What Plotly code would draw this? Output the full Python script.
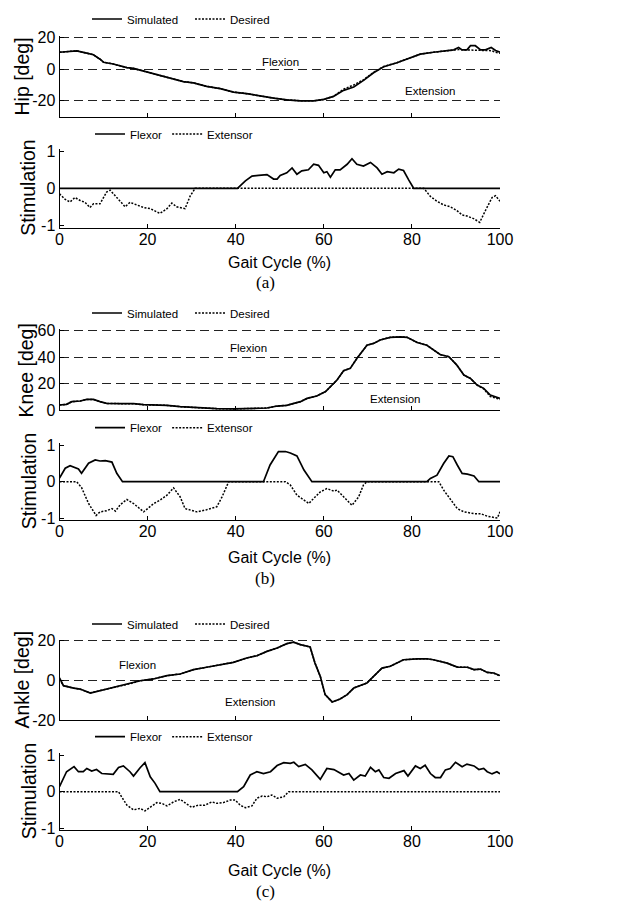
import plotly.graph_objects as go

# ---------------- data ----------------
gait_ticks = [0, 20, 40, 60, 80, 100]
gait_tick_text = ["0", "20", "40", "60", "80", "100"]
stim_ticks = [-1, 0, 1]
stim_tick_text = ["-1", "0", "1"]
hip_ticks = [-20, 0, 20]
hip_tick_text = ["-20", "0", "20"]
knee_ticks = [0, 20, 40, 60]
knee_tick_text = ["0", "20", "40", "60"]
ankle_ticks = [-20, 0, 20]
ankle_tick_text = ["-20", "0", "20"]

hip_x = [0, 3.9, 6.2, 7.7, 9.2, 10, 12.2, 13.7, 15.3, 16.8, 19.8, 22.8, 25.9, 28.1, 30.4, 33.4,
         36.5, 39.5, 42.5, 45.6, 48.6, 51.6, 54.7, 57.7, 60, 62.2, 64.5, 66.8, 69.1, 71.3, 73.6,
         76.6, 78.9, 81.9, 84.9, 88, 89.5, 90.6, 91.4, 92.5, 93.3, 94.4, 95.6, 96.7, 98, 99, 100]
hip_sim = [10.6, 11.5, 10, 9, 6.2, 4.3, 3.2, 2.1, 0.9, 0.4, -1.7, -3.8, -6, -7.9, -8.7, -10.9,
           -12.3, -14.5, -15.5, -17, -18.3, -19.4, -20, -20, -19.1, -17.2, -13.4, -11.3, -7, -2.3, 1.5,
           4, 6.4, 9.4, 10.6, 11.7, 12.1, 13.6, 12.1, 12.1, 14.7, 14.7, 12.1, 12.1, 13.6, 11.7, 10.6]
hip_des = [10.6, 11.5, 10, 9, 6.2, 4.3, 3.2, 2.1, 0.9, 0.4, -1.7, -3.8, -6, -7.9, -8.7, -10.9,
           -12.3, -14.5, -15.5, -17, -18.3, -19.4, -20, -20, -19.1, -17.2, -12.6, -10.0, -6.6, -2.0, 1.6,
           4, 6.4, 9.4, 10.6, 11.7, 12.1, 12.3, 12.1, 12.0, 12.2, 12.1, 12.0, 12.0, 11.6, 10.6, 10.0]

stim_a_flex_x = [0, 40.4, 42.2, 43.7, 45.2, 47.1, 48.6, 49.4, 50.1, 51.6, 52.8, 53.9, 55, 56.5, 57.7,
                 58.8, 60, 60.7, 61.5, 62.6, 63.7, 65.3, 66.4, 67.5, 69, 70.6, 72.1, 73.2, 74.4, 75.9,
                 77, 78.1, 79.3, 80.4, 100]
stim_a_flex = [0, 0, 0.2, 0.33, 0.35, 0.37, 0.25, 0.25, 0.35, 0.42, 0.55, 0.38, 0.47, 0.5, 0.65,
               0.62, 0.42, 0.45, 0.3, 0.5, 0.5, 0.65, 0.8, 0.65, 0.6, 0.7, 0.55, 0.38, 0.45, 0.42,
               0.52, 0.48, 0.22, 0, 0]
stim_a_ext_x = [0, 1.3, 2.4, 3.5, 4.7, 5.8, 6.9, 7.7, 9.2, 10.7, 11.5, 12.6, 13.8, 14.9, 16, 17.5,
                19.1, 20.6, 22.8, 24.4, 25.5, 26.6, 28.5, 29.7, 30.8, 82.7, 84.2, 85.7, 87.2, 88.7,
                90.2, 91.4, 92.5, 94, 95.4, 96.7, 98.2, 99, 100]
stim_a_ext = [-0.15, -0.3, -0.37, -0.25, -0.33, -0.38, -0.52, -0.42, -0.42, -0.1, -0.05, -0.2, -0.38,
              -0.5, -0.38, -0.45, -0.52, -0.55, -0.68, -0.55, -0.4, -0.5, -0.55, -0.2, 0, 0, -0.22,
              -0.35, -0.45, -0.5, -0.6, -0.72, -0.75, -0.82, -0.92, -0.6, -0.25, -0.2, -0.35]

knee_x = [0, 1.6, 2.8, 4.7, 6.2, 7.7, 9.2, 10.7, 13.8, 16.8, 19.1, 22.8, 24.4, 27.4, 30.4, 32, 35.7,
          39.5, 44, 47.1, 49.4, 51.6, 53.2, 54.7, 56.2, 58.4, 60.4, 61.5, 63, 64.5, 66, 67.5, 69,
          69.8, 71.3, 72.8, 75.1, 77.4, 78.9, 81.2, 83.4, 84.9, 86.4, 88.4, 90.2, 91.8, 93.3, 94.8,
          96.3, 97.8, 100]
knee_sim = [3.8, 4.3, 6.3, 6.8, 8, 8, 6.3, 5, 4.8, 4.8, 4, 4, 3.5, 2.5, 2, 1.3, 1, 0.8, 1, 1.5, 3,
            3.5, 5, 6.3, 8.8, 10.6, 13.9, 17.6, 22.7, 29.7, 31.5, 39, 45.8, 49, 50.4, 53, 55, 55.4,
            55, 51.1, 49, 45.3, 42, 40.3, 34, 26.4, 23.9, 18.9, 16.4, 11.3, 8.8]
knee_des = [3.8, 4.3, 6.3, 6.8, 8, 8, 6.3, 5, 4.8, 4.8, 4, 4, 3.5, 2.5, 2, 1.3, 1, 0.8, 1, 1.5, 3,
            3.5, 5, 6.3, 8.8, 10.6, 13.9, 17.6, 22.7, 29.7, 31.5, 39, 45.8, 49, 50.4, 53, 55, 55.4,
            55, 51.1, 49, 45.3, 42, 40.3, 34, 26.4, 23.9, 18.9, 16.0, 10.2, 8.0]

stim_b_flex_x = [0, 1.3, 2.4, 4.3, 5, 6.6, 8.1, 9.2, 10.4, 11.9, 13, 14.3, 46.3, 47.8, 49.7, 51.3,
                 52.4, 53.9, 55.5, 57.3, 83.4, 84.2, 85.7, 87.2, 88.4, 89.3, 90.3, 91.4, 92.6, 94.1,
                 95.2, 100]
stim_b_flex = [0.1, 0.37, 0.44, 0.35, 0.23, 0.51, 0.6, 0.57, 0.58, 0.54, 0.23, 0, 0, 0.46, 0.83,
               0.83, 0.79, 0.71, 0.32, 0, 0, 0.09, 0.18, 0.5, 0.71, 0.69, 0.46, 0.23, 0.21, 0.16, 0, 0]
stim_b_ext_x = [0, 3.9, 5, 6.6, 8.3, 9.2, 10.7, 11.9, 12.7, 13.8, 15.3, 16.8, 19.1, 21.4, 22.8, 24.4,
                25.9, 27.4, 28.5, 31.2, 33.4, 35.7, 36.9, 38.4, 51.3, 52.4, 53.9, 55.5, 56.6, 57.7,
                59.2, 60.7, 62.3, 63, 64.5, 66.4, 67.9, 69, 69.8, 86.1, 87.2, 88.8, 90.3, 91.8, 94.1,
                95.6, 97.1, 99.4, 100]
stim_b_ext = [0, 0, -0.16, -0.6, -0.93, -0.83, -0.8, -0.74, -0.81, -0.63, -0.49, -0.6, -0.83, -0.6,
              -0.51, -0.37, -0.17, -0.42, -0.74, -0.83, -0.77, -0.69, -0.42, 0, 0, -0.09, -0.37,
              -0.51, -0.6, -0.46, -0.28, -0.19, -0.26, -0.23, -0.42, -0.65, -0.42, -0.09, 0, 0,
              -0.23, -0.51, -0.74, -0.83, -0.88, -0.88, -0.95, -1.0, -0.83]

ankle_x = [0, 0.9, 3.2, 4.7, 7, 9.2, 11.5, 13.8, 16, 18.3, 21.3, 24.4, 27.4, 30.4, 33.4, 36.5, 39.5,
           42.5, 44.8, 47.1, 49.4, 51.6, 53.1, 54.7, 56.9, 58, 59.2, 60.3, 61.9, 63.7, 65.3, 66.8,
           68.3, 69.8, 71.3, 73.2, 75.1, 76.6, 78.1, 81.2, 83.4, 84.9, 88, 90.3, 92.6, 94.1, 95.6,
           97.1, 98.6, 100]
ankle_sim = [1.2, -2.7, -3.9, -4.4, -6.4, -5.2, -4.2, -2.7, -1.7, -0.2, 0.7, 2.4, 3.2, 5.4, 6.6,
             7.9, 9.1, 11.3, 12.4, 14.6, 16.3, 18.5, 19.3, 18, 16.8, 8.7, 2, -7.2, -10.9, -9.4,
             -7.2, -3.9, -2.7, -1.3, 2, 6.2, 7.1, 8.7, 10.4, 10.8, 10.9, 10.4, 8.7, 6.7, 6.6, 5.4,
             5.7, 4, 3.7, 2.4]
ankle_des = [0.6, -2.7, -3.9, -4.5, -6.3, -5.2, -4.2, -2.8, -1.7, -0.2, 0.7, 2.4, 3.2, 5.4, 6.6,
             7.9, 9.1, 11.3, 12.4, 14.6, 16.3, 18.5, 19.3, 18, 16.8, 8.7, 2, -7.2, -10.9, -9.4,
             -7.2, -3.9, -2.7, -1.3, 2, 6.2, 7.1, 8.7, 10.4, 10.8, 10.9, 10.4, 8.7, 6.7, 6.6, 5.4,
             5.6, 4, 3.6, 2.2]

stim_c_flex_x = [0, 1.6, 3.3, 4.3, 5.4, 6.2, 7.3, 8.4, 9.6, 10.7, 12.2, 13.4, 14.5, 16, 16.8, 18.3,
                 19.4, 20.6, 21.7, 22.8, 40.4, 41.8, 43.3, 44.8, 46.3, 47.9, 49.4, 50.9, 52.4, 53.2,
                 54.3, 55.8, 57.3, 59.2, 60.7, 62.3, 63.8, 64.5, 65.7, 66.8, 68.3, 69.4, 70.6, 71.7,
                 72.5, 73.6, 74.8, 76.3, 78.2, 79.1, 80.8, 81.9, 83, 84.2, 85.3, 86.5, 87.6, 88.7,
                 89.9, 91.4, 92.5, 94.1, 95.2, 96.3, 97.1, 98.2, 99.3, 100]
stim_c_flex = [0.14, 0.55, 0.69, 0.55, 0.55, 0.64, 0.57, 0.61, 0.5, 0.49, 0.48, 0.67, 0.71, 0.55,
               0.43, 0.66, 0.8, 0.41, 0.23, 0, 0, 0.14, 0.46, 0.55, 0.5, 0.55, 0.72, 0.8, 0.78, 0.81,
               0.69, 0.75, 0.6, 0.34, 0.64, 0.61, 0.52, 0.46, 0.5, 0.32, 0.46, 0.43, 0.67, 0.55, 0.6,
               0.39, 0.37, 0.5, 0.58, 0.43, 0.71, 0.64, 0.73, 0.5, 0.39, 0.39, 0.6, 0.64, 0.81, 0.69,
               0.76, 0.71, 0.61, 0.64, 0.55, 0.49, 0.55, 0.49]
stim_c_ext_x = [0, 13.4, 14.1, 15.3, 16.8, 18.3, 19.4, 20.9, 22.1, 23.2, 24.4, 25.9, 27.4, 28.9, 30,
                31.5, 33, 34.6, 35.7, 37.2, 38.8, 39.9, 41, 42.2, 43.7, 44.8, 46, 47.1, 48.2, 49.4,
                50.9, 52, 100]
stim_c_ext = [0, 0, -0.14, -0.37, -0.5, -0.46, -0.53, -0.41, -0.3, -0.32, -0.39, -0.28, -0.21,
              -0.34, -0.43, -0.37, -0.37, -0.28, -0.32, -0.3, -0.23, -0.23, -0.37, -0.44, -0.39,
              -0.18, -0.12, -0.14, -0.09, -0.18, -0.14, 0, 0]

angle_legend = ["Simulated", "Desired"]
stim_legend = ["Flexor", "Extensor"]
angle_titles = ["Hip [deg]", "Knee [deg]", "Ankle [deg]"]
panel_tags = ["(a)", "(b)", "(c)"]

# ---------------- layout helpers ----------------
W, H = 627, 905
SANS = "Liberation Sans, Arial, Helvetica, sans-serif"
SERIF = "Liberation Serif, Times New Roman, serif"
X0, X1 = 59.5, 500.0
DOT = "2px,1.5px"


def fy(p):
    return 1 - p / H


def fx(p):
    return p / W


fig = go.Figure()

# angle panels: value range, and pixel rows of two reference values
angle_panels = [
    (1, hip_x, hip_sim, hip_des, [-30, 20.8], (20, 37.3), (-30, 116.7), hip_ticks, hip_tick_text),
    (3, knee_x, knee_sim, knee_des, [0, 61], (60, 330.7), (0, 410.0), knee_ticks, knee_tick_text),
    (5, ankle_x, ankle_sim, ankle_des, [-20, 20.6], (20, 640.7), (-20, 720.0), ankle_ticks,
     ankle_tick_text),
]
stim_panels = [
    (2, stim_a_flex_x, stim_a_flex, stim_a_ext_x, stim_a_ext, 149.1, 227.5),
    (4, stim_b_flex_x, stim_b_flex, stim_b_ext_x, stim_b_ext, 443.2, 520.2),
    (6, stim_c_flex_x, stim_c_flex, stim_c_ext_x, stim_c_ext, 753.2, 830.2),
]

axis_common = dict(showline=True, linecolor="black", linewidth=1, ticks="inside",
                   ticklen=4, tickcolor="black", zeroline=False, mirror=False, automargin=False,
                   tickfont=dict(family=SANS, size=16, color="black"))

layout = dict(template="none", width=W, height=H, autosize=False,
              margin=dict(l=0, r=0, t=0, b=0, pad=0),
              paper_bgcolor="white", plot_bgcolor="white", showlegend=True,
              font=dict(family=SANS, color="black"))


def sfx(i):
    return "" if i == 1 else str(i)


for (i, xs, ys, yd, rng, (va, pa), (vb, pb), tv, tt) in angle_panels:
    xa, ya = "x" + sfx(i), "y" + sfx(i)
    leg = "legend" + sfx(i)
    fig.add_trace(go.Scatter(x=xs, y=yd, mode="lines", name=angle_legend[1], xaxis=xa, yaxis=ya,
                             line=dict(color="black", width=1.5, dash=DOT), legend=leg))
    fig.add_trace(go.Scatter(x=xs, y=ys, mode="lines", name=angle_legend[0], xaxis=xa, yaxis=ya,
                             line=dict(color="black", width=1.7), legend=leg))
    ppu = (pb - pa) / (va - vb)
    top = pa - (rng[1] - va) * ppu
    bot = pb + (vb - rng[0]) * ppu
    layout["xaxis" + sfx(i)] = dict(domain=[fx(X0), fx(X1)], range=[0, 100], anchor=ya,
                                    tickvals=gait_ticks, showticklabels=False, showgrid=False,
                                    **axis_common)
    layout["yaxis" + sfx(i)] = dict(domain=[fy(bot), fy(top)], range=rng, anchor=xa,
                                    tickvals=tv, ticktext=tt, showgrid=True, gridcolor="#222",
                                    gridwidth=1, griddash="9px,5px", **axis_common)

for (i, fxs, fys, exs, eys, top, bot) in stim_panels:
    xa, ya = "x" + sfx(i), "y" + sfx(i)
    leg = "legend" + sfx(i)
    fig.add_trace(go.Scatter(x=fxs, y=fys, mode="lines", name=stim_legend[0], xaxis=xa, yaxis=ya,
                             line=dict(color="black", width=1.7), legend=leg))
    fig.add_trace(go.Scatter(x=exs, y=eys, mode="lines", name=stim_legend[1], xaxis=xa, yaxis=ya,
                             line=dict(color="black", width=1.5, dash=DOT), legend=leg))
    layout["xaxis" + sfx(i)] = dict(domain=[fx(X0), fx(X1)], range=[0, 100], anchor=ya,
                                    tickvals=gait_ticks, ticktext=gait_tick_text,
                                    showticklabels=True, showgrid=False, ticklabelstandoff=-3,
                                    **axis_common)
    layout["yaxis" + sfx(i)] = dict(domain=[fy(bot), fy(top)], range=[-1.06, 1.06], anchor=xa,
                                    tickvals=stim_ticks, ticktext=stim_tick_text, showgrid=False,
                                    **axis_common)

# legends
leg_pos = {1: (87, 19), 2: (90, 134), 3: (87, 313), 4: (90, 427.7), 5: (87, 624), 6: (90, 736.7)}
for i, (lx, ly) in leg_pos.items():
    spec = dict(
        x=fx(lx), y=fy(ly), xanchor="left", yanchor="middle", orientation="h",
        bgcolor="rgba(0,0,0,0)", borderwidth=0, itemwidth=30,
        traceorder="reversed" if i % 2 == 1 else "normal",
        font=dict(family=SANS, size=11.5, color="black"), itemclick=False)
    if i % 2 == 1:
        spec.update(entrywidth=58, entrywidthmode="pixels")
    layout["legend" + sfx(i)] = spec

fig.update_layout(**layout)

ann = []
# y-axis titles
ytitle_pos = [(1, 21.5, 77), (3, 25.5, 370), (5, 21.5, 680)]
for (i, px, pyy), t in zip(ytitle_pos, angle_titles):
    ann.append(dict(text=t, x=fx(px), y=fy(pyy), xref="paper", yref="paper", showarrow=False,
                    textangle=-90, font=dict(family=SANS, size=19.5, color="black"),
                    xanchor="center", yanchor="middle"))
for i, pyy in [(2, 188.3), (4, 481.7), (6, 791.7)]:
    ann.append(dict(text="Stimulation", x=fx(28.5), y=fy(pyy), xref="paper", yref="paper",
                    showarrow=False, textangle=-90,
                    font=dict(family=SANS, size=19.5, color="black"),
                    xanchor="center", yanchor="middle"))
# x titles and tags
for pyy, tag_y, tag in [(262, 283, panel_tags[0]), (557, 578, panel_tags[1]),
                        (870, 891.5, panel_tags[2])]:
    ann.append(dict(text="Gait Cycle (%)", x=fx(279), y=fy(pyy), xref="paper", yref="paper",
                    showarrow=False, font=dict(family=SANS, size=16, color="black"),
                    xanchor="center", yanchor="middle"))
    ann.append(dict(text=tag, x=fx(265), y=fy(tag_y), xref="paper", yref="paper",
                    showarrow=False, font=dict(family=SERIF, size=17, color="black"),
                    xanchor="center", yanchor="middle"))
# flexion / extension labels
region_labels = [
    ("x", "y", 50.2, 4.3, 84.2, -14),
    ("x3", "y3", 42.9, 46.6, 76.3, 8),
    ("x5", "y5", 17.6, 7.6, 43.3, -11),
]
for xa, ya, fxv, fyv, exv, eyv in region_labels:
    ann.append(dict(text="Flexion", x=fxv, y=fyv, xref=xa, yref=ya, showarrow=False,
                    font=dict(family=SANS, size=11.5, color="black")))
    ann.append(dict(text="Extension", x=exv, y=eyv, xref=xa, yref=ya, showarrow=False,
                    font=dict(family=SANS, size=11.5, color="black")))

fig.update_layout(annotations=ann)
fig.write_html("out.html", config={"displayModeBar": False},
               post_script="document.body.style.margin='0px';"
                           "document.body.style.overflow='hidden';")
